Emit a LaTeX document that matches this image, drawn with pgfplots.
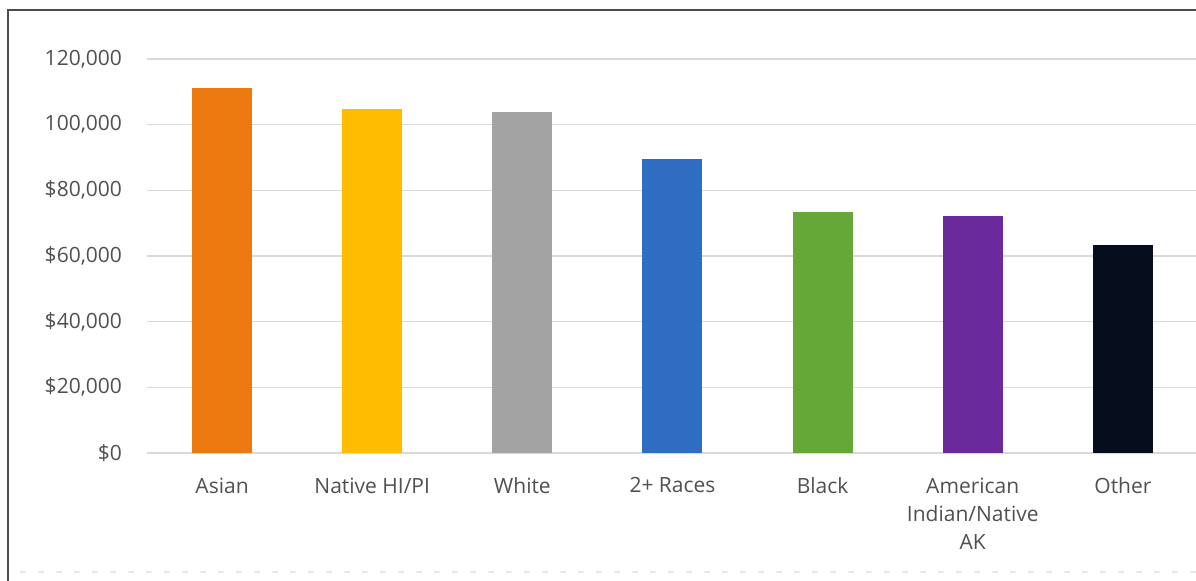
\documentclass[border=0pt]{standalone}
\usepackage{pgfplots}
\pgfplotsset{compat=1.18}
\usepackage{fontspec}
\setmainfont{Open Sans}
\definecolor{txt}{HTML}{505050}
\definecolor{gridc}{HTML}{D9D9D9}
\definecolor{cAsian}{HTML}{ED7A11}
\definecolor{cNHPI}{HTML}{FFBC00}
\definecolor{cWhite}{HTML}{A3A3A3}
\definecolor{cMulti}{HTML}{2E6DC2}
\definecolor{cBlack}{HTML}{66A838}
\definecolor{cAIAN}{HTML}{6A2A9C}
\definecolor{cOther}{HTML}{060D1C}
\begin{document}
\begin{tikzpicture}
\path[use as bounding box] (0,0) rectangle (598pt,290pt);
\clip (0,0) rectangle (598pt,290pt);
\draw[color=black!70, line width=0.8pt] (4pt,-10pt) rectangle (620pt,285pt);
\draw[gridc!60, line width=0.6pt, dash pattern=on 3pt off 6pt] (10pt,4pt) -- (598pt,4pt);
\begin{axis}[
  at={(73.5pt,63.5pt)}, anchor=south west,
  scale only axis, width=525.5pt, height=197pt,
  xmin=-0.5, xmax=6.5, ymin=0, ymax=120000,
  ybar, bar width=30pt,
  axis line style={draw=none},
  tick style={draw=none},
  ymajorgrids, grid style={gridc, line width=0.75pt},
  ytick={0,20000,40000,60000,80000,100000,120000},
  yticklabels={{\$0},{\$20,000},{\$40,000},{\$60,000},{\$80,000},{100,000},{120,000}},
  scaled y ticks=false,
  xtick={0,1,2,3,4,5,6},
  xticklabels={Asian,Native HI/PI,White,2+ Races,Black,{American\\Indian/Native\\AK},Other},
  ticklabel style={font=\fontsize{10.5}{14}\selectfont, text=txt},
  xticklabel style={align=center, yshift=-4.5pt},
  yticklabel style={xshift=-9pt},
  /pgf/number format/assume math mode=true,
]
\addplot[fill=cAsian, draw=none, bar shift=0pt] coordinates {(0,111100)};
\addplot[fill=cNHPI, draw=none, bar shift=0pt] coordinates {(1,104800)};
\addplot[fill=cWhite, draw=none, bar shift=0pt] coordinates {(2,103800)};
\addplot[fill=cMulti, draw=none, bar shift=0pt] coordinates {(3,89500)};
\addplot[fill=cBlack, draw=none, bar shift=0pt] coordinates {(4,73400)};
\addplot[fill=cAIAN, draw=none, bar shift=0pt] coordinates {(5,72200)};
\addplot[fill=cOther, draw=none, bar shift=0pt] coordinates {(6,63300)};
\end{axis}
\end{tikzpicture}
\end{document}
